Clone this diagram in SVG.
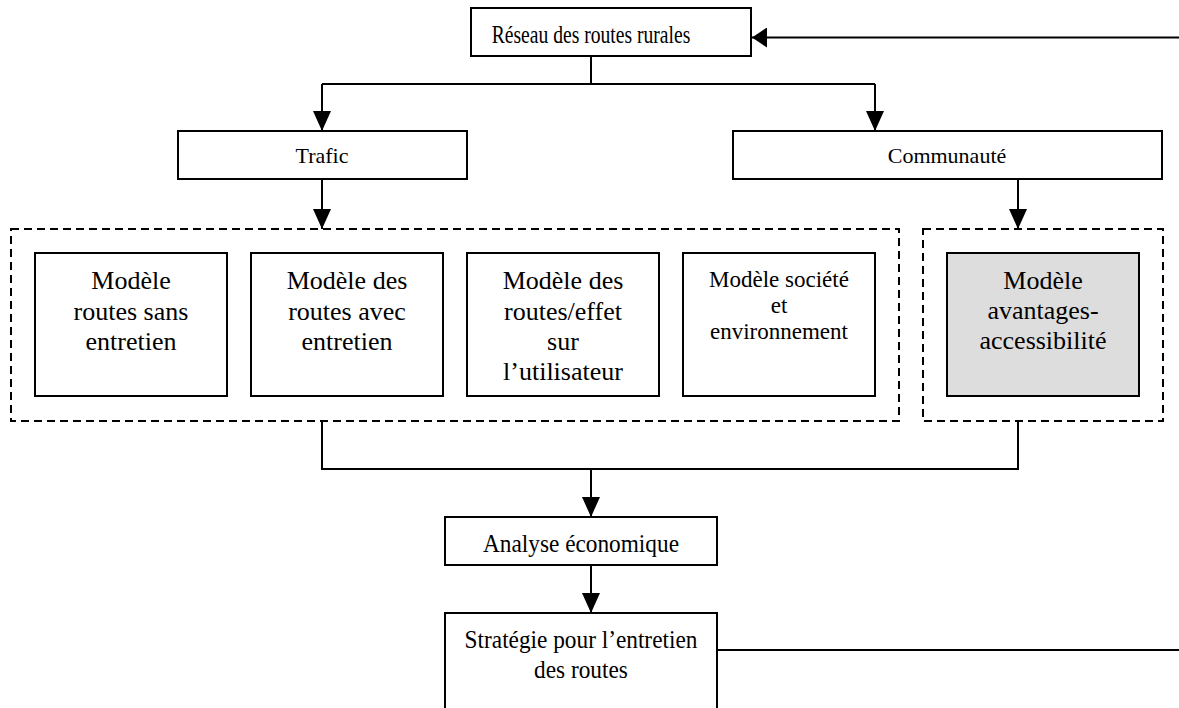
<svg xmlns="http://www.w3.org/2000/svg" width="1179" height="708" viewBox="0 0 1179 708">
  <style>
    .box { fill: #ffffff; stroke: #000000; stroke-width: 2; }
    .grey { fill: #dddddd; stroke: #000000; stroke-width: 2; }
    .dash { fill: none; stroke: #000000; stroke-width: 2; stroke-dasharray: 8 5; }
    .conn { fill: none; stroke: #000000; stroke-width: 2; }
    text { font-family: "Liberation Serif", "Times New Roman", serif; fill: #000000; text-anchor: middle; }
    .t26 { font-size: 26px; }
    .t23 { font-size: 23px; }
    .t22 { font-size: 22px; }
    .t24 { font-size: 23.3px; }
  </style>
  <defs>
    <marker id="arrD" markerUnits="userSpaceOnUse" markerWidth="20" markerHeight="18" refX="20" refY="9" orient="auto" viewBox="0 0 20 18">
      <path d="M0,0 L20,9 L0,18 Z" fill="#000000"/>
    </marker>
    <marker id="arrL" markerUnits="userSpaceOnUse" markerWidth="15" markerHeight="20" refX="15" refY="10" orient="auto" viewBox="0 0 15 20">
      <path d="M0,0 L15,10 L0,20 Z" fill="#000000"/>
    </marker>
  </defs>
  <rect x="0" y="0" width="1179" height="708" fill="#ffffff"/>

  <g id="connectors">
    <path class="conn" d="M1179,37.5 H752" marker-end="url(#arrL)"/>
    <path class="conn" d="M591,56 V84"/>
    <path class="conn" d="M322,84 H875"/>
    <path class="conn" d="M322,84 V131" marker-end="url(#arrD)"/>
    <path class="conn" d="M875,84 V131" marker-end="url(#arrD)"/>
    <path class="conn" d="M322,179 V229" marker-end="url(#arrD)"/>
    <path class="conn" d="M1018,179 V229" marker-end="url(#arrD)"/>
    <path class="conn" d="M322,421 V469 H1018 V421"/>
    <path class="conn" d="M591,469 V517" marker-end="url(#arrD)"/>
    <path class="conn" d="M591,565 V613" marker-end="url(#arrD)"/>
    <path class="conn" d="M717,650 H1179"/>
  </g>

  <g id="reseau">
    <rect class="box" x="471" y="8" width="280" height="48"/>
    <text transform="translate(591,43) scale(1,1.25)" style="font-size:19.6px">Réseau des routes rurales</text>
  </g>

  <g id="trafic">
    <rect class="box" x="178" y="131" width="289" height="48"/>
    <text class="t22" x="322" y="163">Trafic</text>
  </g>

  <g id="communaute">
    <rect class="box" x="733" y="131" width="429" height="48"/>
    <text class="t22" x="947" y="163">Communauté</text>
  </g>

  <g id="groupe-trafic">
    <rect class="dash" x="11" y="229" width="888" height="192"/>
  </g>

  <g id="modele-sans-entretien">
    <rect class="box" x="35" y="253" width="192" height="143"/>
    <text class="t26" x="131" y="289">Modèle</text>
    <text class="t26" x="131" y="319.5">routes sans</text>
    <text class="t26" x="131" y="350">entretien</text>
  </g>

  <g id="modele-avec-entretien">
    <rect class="box" x="251" y="253" width="192" height="143"/>
    <text class="t26" x="347" y="289">Modèle des</text>
    <text class="t26" x="347" y="319.5">routes avec</text>
    <text class="t26" x="347" y="350">entretien</text>
  </g>

  <g id="modele-effet-utilisateur">
    <rect class="box" x="467" y="253" width="192" height="143"/>
    <text class="t26" x="563" y="289">Modèle des</text>
    <text class="t26" x="563" y="319.5">routes/effet</text>
    <text class="t26" x="563" y="350">sur</text>
    <text class="t26" x="563" y="380">l’utilisateur</text>
  </g>

  <g id="modele-societe">
    <rect class="box" x="683" y="253" width="192" height="143"/>
    <text class="t23" x="779" y="287">Modèle société</text>
    <text class="t23" x="779" y="313">et</text>
    <text class="t23" x="779" y="339">environnement</text>
  </g>

  <g id="groupe-communaute">
    <rect class="dash" x="923" y="229" width="240" height="192"/>
  </g>

  <g id="modele-avantages">
    <rect class="grey" x="947" y="253" width="192" height="143"/>
    <text class="t26" x="1043" y="289">Modèle</text>
    <text class="t26" x="1043" y="319">avantages-</text>
    <text class="t26" x="1043" y="349">accessibilité</text>
  </g>

  <g id="analyse">
    <rect class="box" x="445" y="517" width="272" height="48"/>
    <text class="t24" transform="translate(581,552) scale(1,1.08)">Analyse économique</text>
  </g>

  <g id="strategie">
    <rect class="box" x="445" y="613" width="272" height="110"/>
    <text class="t24" transform="translate(581,647.5) scale(1,1.08)">Stratégie pour l’entretien</text>
    <text class="t24" transform="translate(581,678) scale(1,1.08)">des routes</text>
  </g>
</svg>
